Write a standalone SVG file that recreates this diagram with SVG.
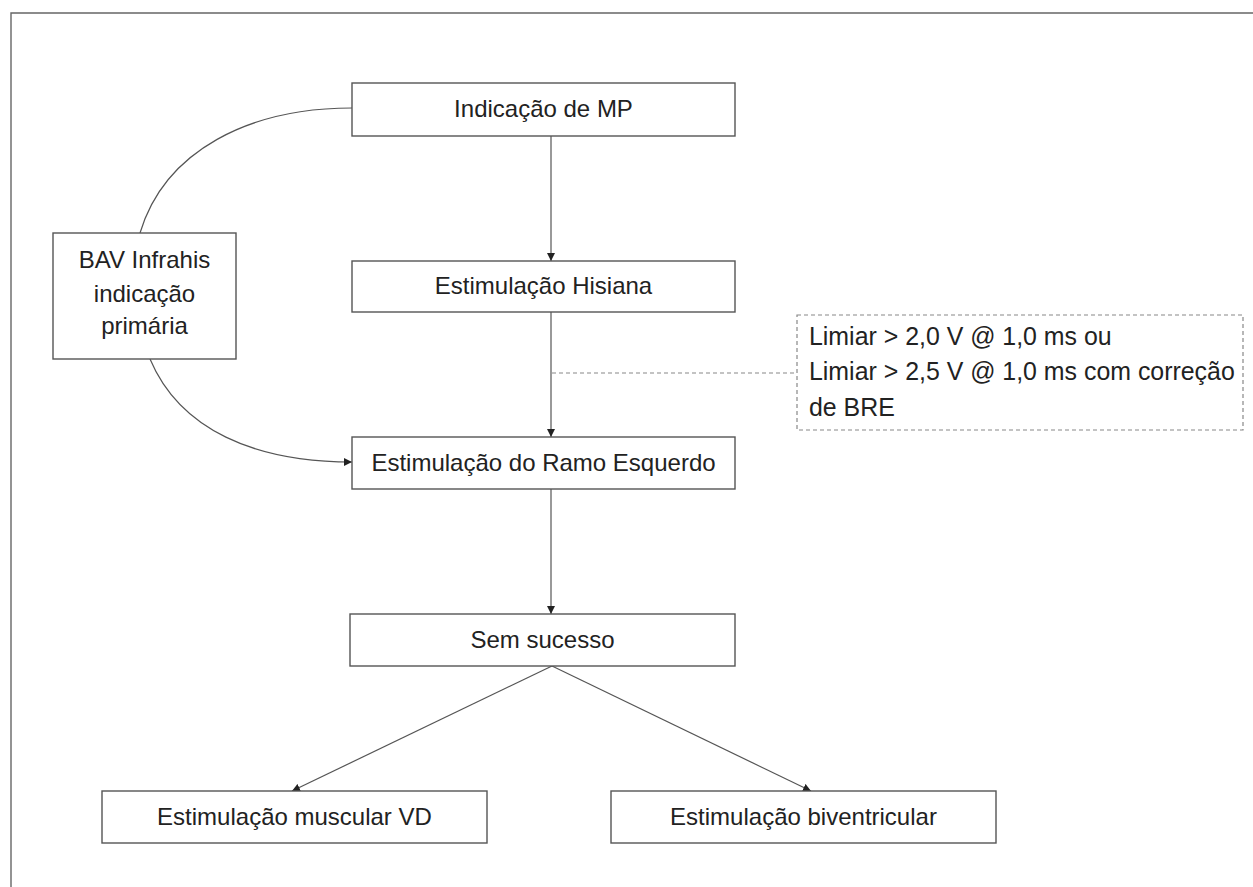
<svg xmlns="http://www.w3.org/2000/svg" width="1253" height="887" viewBox="0 0 1253 887">
<style>
.box{fill:#fff;stroke:#555;stroke-width:1.4}
.dbox{fill:#fff;stroke:#888;stroke-width:1.2;stroke-dasharray:4 3}
.t{font-family:"Liberation Sans",Arial,sans-serif;font-size:24px;fill:#222;text-anchor:middle}
.tl{font-family:"Liberation Sans",Arial,sans-serif;font-size:24.9px;fill:#222}
.c{fill:none;stroke:#555;stroke-width:1.2}
.d{fill:none;stroke:#888;stroke-width:1.2;stroke-dasharray:4 3}
</style>
<defs>
<marker id="ah" viewBox="0 0 10 10" refX="10" refY="5" markerWidth="8" markerHeight="8" markerUnits="userSpaceOnUse" orient="auto">
<path d="M0,0 L10,5 L0,10 z" fill="#222"/>
</marker>
</defs>
<rect x="0" y="0" width="1253" height="887" fill="#fff"/>
<path d="M11,900 V13 H1260" fill="none" stroke="#666" stroke-width="1.4"/>
<g id="connectors">
<path class="c" d="M352,108 C250,108 165,150 140,233"/>
<path class="c" d="M150,359 C180,430 255,462 352,462" marker-end="url(#ah)"/>
<line class="c" x1="551" y1="136" x2="551" y2="261" marker-end="url(#ah)"/>
<line class="c" x1="551" y1="312" x2="551" y2="437" marker-end="url(#ah)"/>
<line class="c" x1="551" y1="489" x2="551" y2="614" marker-end="url(#ah)"/>
<line class="d" x1="552" y1="373" x2="797" y2="373"/>
<line class="c" x1="552" y1="666" x2="292" y2="791" marker-end="url(#ah)"/>
<line class="c" x1="552" y1="666" x2="811" y2="791" marker-end="url(#ah)"/>
</g>
<g id="n-indicacao">
<rect class="box" x="352" y="83" width="383" height="53"/>
<text class="t" x="543.5" y="117">Indicação de MP</text>
</g>
<g id="n-bav">
<rect class="box" x="53" y="233" width="183" height="126"/>
<text class="t" x="144.5" y="268">BAV Infrahis</text>
<text class="t" x="144.5" y="302">indicação</text>
<text class="t" x="144.5" y="334">primária</text>
</g>
<g id="n-hisiana">
<rect class="box" x="352" y="261" width="383" height="51"/>
<text class="t" x="543.5" y="294">Estimulação Hisiana</text>
</g>
<g id="n-limiar">
<rect class="dbox" x="797" y="315" width="446" height="115"/>
<text class="tl" x="809" y="345">Limiar &gt; 2,0 V @ 1,0 ms ou</text>
<text class="tl" x="809" y="380">Limiar &gt; 2,5 V @ 1,0 ms com correção</text>
<text class="tl" x="809" y="416">de BRE</text>
</g>
<g id="n-ramo">
<rect class="box" x="352" y="437" width="383" height="52"/>
<text class="t" x="543.5" y="471">Estimulação do Ramo Esquerdo</text>
</g>
<g id="n-sem">
<rect class="box" x="350" y="614" width="385" height="52"/>
<text class="t" x="542.5" y="648">Sem sucesso</text>
</g>
<g id="n-vd">
<rect class="box" x="102" y="791" width="385" height="52"/>
<text class="t" x="294.5" y="825">Estimulação muscular VD</text>
</g>
<g id="n-biv">
<rect class="box" x="611" y="791" width="385" height="52"/>
<text class="t" x="803.5" y="825">Estimulação biventricular</text>
</g>
</svg>
